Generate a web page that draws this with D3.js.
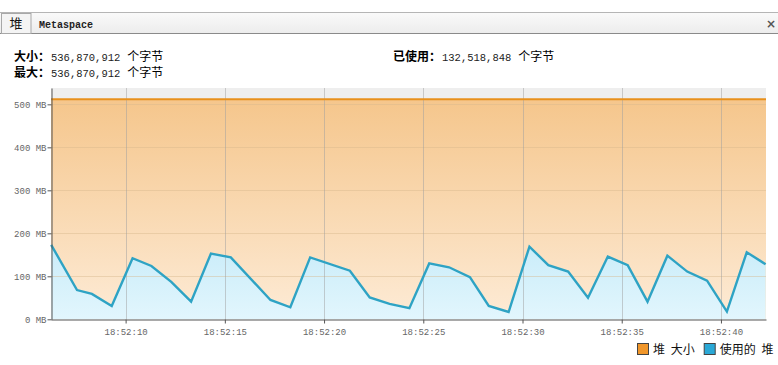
<!DOCTYPE html>
<html>
<head>
<meta charset="utf-8">
<script src="https://cdn.jsdelivr.net/npm/d3@7"></script>
<style>
  body { margin: 0; background: #fff; }
  svg { display: block; }
</style>
</head>
<body>
<svg id="chart" width="778" height="365"></svg>
<script>
// data
const baseTime = "2024-01-01T18:52:";
const seconds = [6.25, 7.55, 8.3, 9.3, 10.35, 11.3, 12.3, 13.3, 14.3, 15.3,
  17.3, 18.3, 19.3, 21.3, 22.3, 23.3, 24.3, 25.3, 26.3, 27.35,
  28.3, 29.3, 30.35, 31.3, 32.3, 33.3, 34.3, 35.3, 36.3, 37.3,
  38.3, 39.3, 40.3, 41.3, 42.25];
const usedMB = [173, 68, 59, 31, 142, 124, 87, 41, 153, 144,
  45, 28, 144, 113, 51, 36, 26, 130, 121, 98,
  31, 17, 169, 126, 111, 50, 146, 126, 41, 148,
  111, 90, 18, 156, 128];
const heapSizeMB = 512;
const yTicks = [0, 100, 200, 300, 400, 500];
const xTickSeconds = [10, 15, 20, 25, 30, 35, 40];
const tabs = ["堆", "Metaspace"];
const infoLeft = [["大小：", "536,870,912"], ["最大：", "536,870,912"]];
const infoRight = ["已使用：", "132,518,848"];
const legendItems = [["堆 大小", "#f0962a"], ["使用的 堆", "#2aa8d6"]];

const toDate = s => {
  const whole = Math.floor(s);
  const ms = Math.round((s - whole) * 1000);
  return new Date(baseTime + String(whole).padStart(2, "0") + "." + String(ms).padStart(3, "0"));
};
const data = seconds.map((s, i) => ({ t: toDate(s), v: usedMB[i] }));

const svg = d3.select("#chart");
const cjk = "'Noto Sans CJK SC', 'Noto Sans', sans-serif";

// tab bar
const defs = svg.append("defs");
const tabGrad = defs.append("linearGradient").attr("id", "tabGrad").attr("x1", 0).attr("y1", 0).attr("x2", 0).attr("y2", 1);
tabGrad.append("stop").attr("offset", "0%").attr("stop-color", "#fafafa");
tabGrad.append("stop").attr("offset", "100%").attr("stop-color", "#ececec");

svg.append("rect").attr("x", 0).attr("y", 12).attr("width", 778).attr("height", 22)
  .attr("fill", "url(#tabGrad)");
svg.append("line").attr("x1", 0).attr("x2", 778).attr("y1", 12.5).attr("y2", 12.5).attr("stroke", "#b5b5b5");
svg.append("line").attr("x1", 0).attr("x2", 778).attr("y1", 33.5).attr("y2", 33.5).attr("stroke", "#8a8a8a");
svg.append("rect").attr("x", 1.5).attr("y", 13.5).attr("width", 29.5).attr("height", 20)
  .attr("fill", "#f4f4f4").attr("stroke", "#a8a8a8");
svg.append("text").attr("x", 16).attr("y", 28).attr("text-anchor", "middle")
  .style("font-family", cjk).style("font-size", "13px").attr("fill", "#111").text(tabs[0]);
svg.append("text").attr("x", 39).attr("y", 27.5)
  .style("font-family", "'Liberation Mono', monospace").style("font-size", "10px").style("font-weight", "bold")
  .attr("fill", "#222").text(tabs[1]);
svg.append("text").attr("x", 771).attr("y", 28).attr("text-anchor", "middle")
  .style("font-family", "'DejaVu Sans', sans-serif").style("font-size", "12px").style("font-weight", "bold")
  .attr("fill", "#555").text("×");

// info lines
function infoLine(x, y, label, value) {
  const t = svg.append("text").attr("x", x).attr("y", y).attr("fill", "#000")
    .style("font-family", cjk).style("font-size", "12px");
  t.append("tspan").style("font-weight", "bold").text(label);
  t.append("tspan").attr("dx", 1).style("font-family", "'Liberation Mono', monospace").style("font-size", "10.5px")
    .attr("fill", "#222").text(value);
  t.append("tspan").attr("dx", 7).text("个字节");
}
infoLeft.forEach((d, i) => infoLine(14, 61 + i * 16, d[0], d[1]));
infoLine(393, 61, infoRight[0], infoRight[1]);

// scales
const x = d3.scaleTime()
  .domain([toDate(6.24), toDate(42.27)])
  .range([51, 766]);
const y = d3.scaleLinear().domain([0, 538]).range([319.3, 88]);

// plot background (above heap size)
svg.append("rect").attr("x", 51).attr("y", 88).attr("width", 715).attr("height", y(heapSizeMB) - 88)
  .attr("fill", "#eeeeee");

const orangeGrad = defs.append("linearGradient").attr("id", "orangeGrad")
  .attr("gradientUnits", "userSpaceOnUse").attr("x1", 0).attr("y1", y(heapSizeMB)).attr("x2", 0).attr("y2", y(0));
orangeGrad.append("stop").attr("offset", "0%").attr("stop-color", "#f5c68c");
orangeGrad.append("stop").attr("offset", "100%").attr("stop-color", "#fdebd6");

const blueGrad = defs.append("linearGradient").attr("id", "blueGrad")
  .attr("gradientUnits", "userSpaceOnUse").attr("x1", 0).attr("y1", y(175)).attr("x2", 0).attr("y2", y(0));
blueGrad.append("stop").attr("offset", "0%").attr("stop-color", "#c9ecf9");
blueGrad.append("stop").attr("offset", "100%").attr("stop-color", "#e2f6fd");

// heap size area
const heapArea = d3.area().x(d => x(d)).y0(y(0)).y1(y(heapSizeMB));
svg.append("path").datum(x.domain()).attr("d", heapArea).attr("fill", "url(#orangeGrad)");

// used area
const usedArea = d3.area().x(d => x(d.t)).y0(y(0)).y1(d => y(d.v));
svg.append("path").datum(data).attr("d", usedArea).attr("fill", "url(#blueGrad)");

// grid
svg.append("g").selectAll("line").data(yTicks.slice(1)).join("line")
  .attr("x1", 51).attr("x2", 766)
  .attr("y1", d => Math.round(y(d)) + 0.5).attr("y2", d => Math.round(y(d)) + 0.5)
  .attr("stroke", "#d8b78f").attr("stroke-opacity", 0.45);
svg.append("g").selectAll("line").data(xTickSeconds).join("line")
  .attr("x1", d => Math.round(x(toDate(d))) + 0.5).attr("x2", d => Math.round(x(toDate(d))) + 0.5)
  .attr("y1", 88).attr("y2", 319)
  .attr("stroke", "#a0a0a0").attr("stroke-opacity", 0.5);

// heap size line
svg.append("path").datum(x.domain())
  .attr("d", d3.line().x(d => x(d)).y(y(heapSizeMB)))
  .attr("stroke", "#e8901c").attr("stroke-width", 2).attr("fill", "none");

// used line
svg.append("path").datum(data)
  .attr("d", d3.line().x(d => x(d.t)).y(d => y(d.v)))
  .attr("stroke", "#2ea3c4").attr("stroke-width", 2.4).attr("stroke-linejoin", "miter").attr("fill", "none");

// axes
const xAxis = d3.axisBottom(x).tickValues(xTickSeconds.map(toDate))
  .tickFormat(d3.timeFormat("%H:%M:%S")).tickSize(4).tickSizeOuter(0);
const yAxis = d3.axisLeft(y).tickValues(yTicks).tickFormat(d => d + " MB").tickSize(4).tickSizeOuter(0);

const gx = svg.append("g").attr("transform", "translate(0,319.5)").call(xAxis);
const gy = svg.append("g").attr("transform", "translate(51.5,0)").call(yAxis);
[gx, gy].forEach(g => {
  g.select(".domain").attr("stroke", "#555");
  g.selectAll(".tick line").attr("stroke", "#555");
  g.selectAll(".tick text").attr("fill", "#666")
    .style("font-family", "'Liberation Mono', monospace").style("font-size", "9px");
});
gx.selectAll(".tick text").attr("dy", "0.9em");
gy.selectAll(".tick text").attr("x", -5);

// legend
const lg = svg.append("g").attr("transform", "translate(637,343)");
let lx = 0;
legendItems.forEach(([label, color]) => {
  lg.append("rect").attr("x", lx + 0.5).attr("y", 0.5).attr("width", 11).attr("height", 11)
    .attr("fill", color).attr("stroke", "#444");
  const t = lg.append("text").attr("x", lx + 16).attr("y", 10.5)
    .style("font-family", cjk).style("font-size", "12px").style("word-spacing", "3px")
    .attr("fill", "#111").text(label);
  lx += 16 + t.node().getComputedTextLength() + 9;
});
</script>
</body>
</html>
